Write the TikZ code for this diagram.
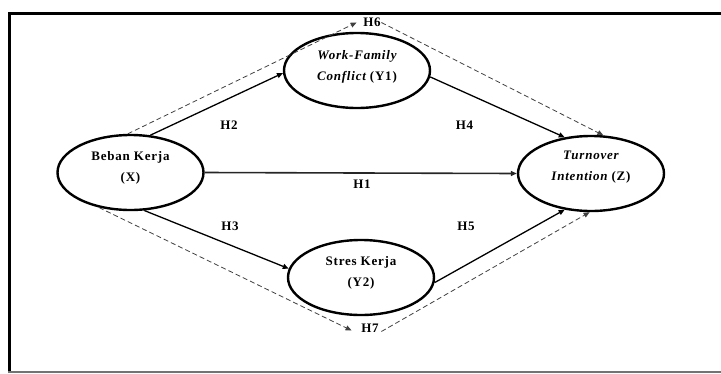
\documentclass[tikz,border=0pt]{standalone}
\usepackage{fontspec}
\setmainfont{Liberation Serif}[LetterSpace=6]
\usetikzlibrary{shapes.geometric,arrows.meta}
\begin{document}
\begin{tikzpicture}[x=1pt,y=-1pt,
  var/.style={ellipse,draw,line width=2.4pt,minimum width=146pt,minimum height=75pt,inner sep=0pt},
  vtext/.style={align=center,font=\fontsize{13pt}{21pt}\selectfont\bfseries,inner sep=0pt},
  hyp/.style={font=\fontsize{13pt}{14pt}\selectfont\bfseries,inner xsep=0.5pt,inner ysep=0pt},
  tip/.style={-{Triangle[length=6pt,width=5pt]}},
  link/.style={tip,line width=1.3pt},
  side/.style={tip,line width=0.8pt,draw=black!75,dash pattern=on 5pt off 3pt}
]
\useasboundingbox (0,0) rectangle (721,373);
% frame
\draw[line width=3.5pt] (9.5,373) -- (9.5,13.5) -- (721,13.5);
\draw[line width=1.5pt,draw=black!55] (8,371.8) -- (721,371.8);

% latent variables
\node[var] (X)  at (130.5,172.5) {};
\node[var] (Y1) at (357,70.5) {};
\node[var] (Y2) at (361,277.5) {};
\node[var] (Z)  at (591,173.5) {};

\node[vtext] (Xt)  at ([yshift=5pt]X.center) {Beban Kerja\\(X)};
\node[vtext] (Y1t) at ([yshift=4pt]Y1.center) {\itshape Work-Family\\{\itshape Conflict} (Y1)};
\node[vtext] (Y2t) at ([yshift=5pt]Y2.center) {Stres Kerja\\(Y2)};
\node[vtext] (Zt)  at ([yshift=6pt]Z.center) {\itshape Turnover\\{\itshape Intention} (Z)};

% hypothesis labels
\node[hyp] (H1) at (362,184) {H1};
\node[hyp] (H2) at (229,125.5) {H2};
\node[hyp] (H3) at (230,226.7) {H3};
\node[hyp] (H4) at (464.5,125) {H4};
\node[hyp] (H5) at (466,226.7) {H5};
\node[hyp] (H6) at (372,22.5) {H6};
\node[hyp] (H7) at (370,328.5) {H7};

% direct paths
\draw[link] (X.62) -- (Y1.182);
\draw[link] (X.-70) -- (Y2.173);
\draw[link,line width=1.6pt,draw=black!85] (X.east) -- (Z.west);
\draw[link] (Y1.-5) -- (Z.126);
\draw[link] (Y2.-4) -- (Z.234);

% mediated paths
\draw[side] (X.94) -- ([xshift=-6pt]H6.west);
\draw[side] (H6.east) -- (Z.72);
\draw[side] (X.-132) -- ([shift={(-9pt,-2pt)}]H7.west);
\draw[side] ([shift={(2pt,-3pt)}]H7.east) -- (Z.-92);
\end{tikzpicture}
\end{document}
